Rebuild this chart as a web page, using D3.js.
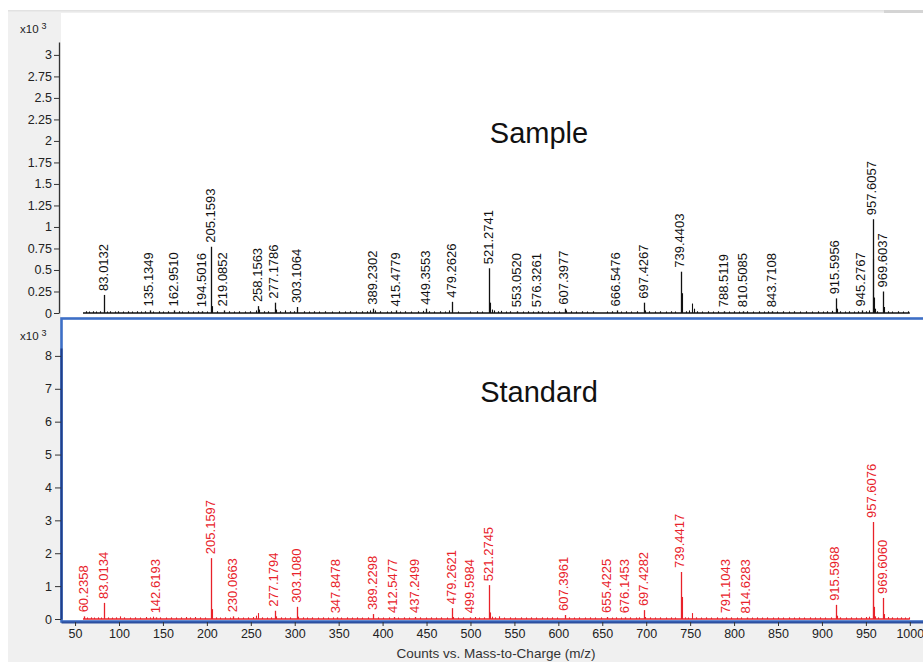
<!DOCTYPE html>
<html>
<head>
<meta charset="utf-8">
<script src="https://cdn.jsdelivr.net/npm/d3@7"></script>
<style>
  html, body { margin: 0; padding: 0; background: #ffffff; }
  svg { display: block; font-family: "Liberation Sans", Arial, sans-serif; }
</style>
</head>
<body>
<svg id="chart" width="923" height="662"></svg>
<script>
// ---- Sample trace: labelled ions (m/z, counts x10^3) ----
const sampleMz = [83.0132, 135.1349, 162.9510, 194.5016, 205.1593, 219.0852, 258.1563, 277.1786,
  303.1064, 389.2302, 415.4779, 449.3553, 479.2626, 521.2741, 553.0520, 576.3261, 607.3977,
  666.5476, 697.4267, 739.4403, 788.5119, 810.5085, 843.7108, 915.5956, 945.2767, 957.6057, 969.6037];
const sampleCounts = [0.21, 0.03, 0.03, 0.02, 0.77, 0.03, 0.08, 0.12,
  0.07, 0.05, 0.03, 0.05, 0.13, 0.52, 0.02, 0.02, 0.05,
  0.03, 0.12, 0.48, 0.02, 0.02, 0.02, 0.17, 0.03, 1.09, 0.25];

// ---- Sample trace: unlabelled ions [m/z, counts x10^3] ----
const sampleMinor = [[62,0.02],[66,0.015],[70,0.02],[74,0.015],[78,0.02],[86,0.015],[90,0.02],[95,0.015],
  [99,0.02],[104,0.015],[110,0.02],[115,0.015],[120,0.02],[125,0.015],[130,0.02],[139,0.015],[145,0.02],
  [150,0.015],[156,0.02],[168,0.02],[172,0.015],[178,0.02],[184,0.015],[190,0.02],[200,0.015],[206.16,0.08],
  [212,0.02],[225,0.02],[231,0.015],[237,0.02],[243,0.015],[249,0.02],[256,0.03],[259.16,0.04],[265,0.02],
  [270,0.02],[278.18,0.04],[283,0.02],[289,0.03],[295,0.02],[299,0.02],[310,0.02],[316,0.015],[322,0.02],
  [328,0.015],[335,0.02],[342,0.015],[350,0.02],[357,0.015],[363,0.02],[370,0.015],[376,0.02],[382,0.02],
  [386,0.03],[391,0.03],[397,0.02],[405,0.015],[410,0.02],[420,0.015],[426,0.02],[432,0.015],[440,0.02],
  [446,0.025],[453,0.02],[459,0.015],[465,0.02],[471,0.015],[476,0.03],[486,0.015],[500,0.015],[507,0.02],
  [513,0.015],[522.28,0.12],[524,0.04],[527,0.03],[531,0.02],[535,0.025],[540,0.015],[545,0.02],[560,0.015],
  [566,0.02],[571,0.015],[581,0.02],[588,0.015],[595,0.02],[601,0.015],[609,0.03],[614,0.02],[620,0.015],
  [627,0.02],[633,0.015],[640,0.02],[655,0.015],[661,0.02],[671,0.015],[677,0.02],[683,0.015],[689,0.02],
  [698.43,0.03],[703,0.02],[710,0.015],[716,0.02],[722,0.015],[728,0.02],[733,0.015],[740.44,0.23],[745,0.02],
  [749,0.03],[752.5,0.11],[754,0.05],[758,0.02],[764,0.015],[770,0.02],[776,0.015],[782,0.02],[794,0.015],
  [800,0.02],[806,0.015],[815,0.02],[821,0.015],[828,0.02],[834,0.015],[839,0.02],[849,0.015],[856,0.02],
  [862,0.015],[868,0.02],[875,0.015],[882,0.02],[889,0.015],[895,0.02],[901,0.015],[906,0.02],[911,0.025],
  [916.6,0.05],[921,0.02],[926,0.015],[931,0.02],[936,0.015],[941,0.02],[950,0.02],[954,0.03],[958.61,0.63],
  [959.61,0.18],[960.6,0.05],[963,0.02],[970.6,0.07],[975,0.02],[980,0.015],[986,0.02],[992,0.015],[998,0.02]];

// ---- Standard trace: labelled ions (m/z, counts x10^3) ----
const standardMz = [60.2358, 83.0134, 142.6193, 205.1597, 230.0663, 277.1794, 303.1080, 347.8478,
  389.2298, 412.5477, 437.2499, 479.2621, 499.5984, 521.2745, 607.3961, 655.4225, 676.1453,
  697.4282, 739.4417, 791.1043, 814.6283, 915.5968, 957.6076, 969.6060];
const standardCounts = [0.08, 0.49, 0.05, 1.85, 0.08, 0.25, 0.37, 0.05,
  0.15, 0.06, 0.06, 0.33, 0.05, 1.03, 0.12, 0.06, 0.05,
  0.27, 1.43, 0.05, 0.04, 0.43, 2.95, 0.64];

// ---- Standard trace: unlabelled ions [m/z, counts x10^3] ----
const standardMinor = [[64,0.04],[68,0.05],[72,0.04],[76,0.05],[79,0.04],[88,0.05],[92,0.04],[97,0.05],
  [101,0.08],[106,0.05],[112,0.04],[118,0.05],[124,0.04],[131,0.06],[135,0.05],[139,0.07],[147,0.05],
  [153,0.04],[159,0.05],[165,0.04],[171,0.05],[176,0.06],[181,0.05],[187,0.06],[192,0.05],[198,0.04],
  [206.16,0.3],[210,0.05],[215,0.04],[221,0.05],[226,0.04],[235,0.05],[241,0.04],[247,0.05],[252,0.06],
  [256,0.1],[258.2,0.18],[263,0.05],[268,0.04],[273,0.05],[278.18,0.08],[284,0.05],[289,0.04],[295,0.05],
  [304.11,0.07],[309,0.05],[314,0.04],[320,0.05],[326,0.04],[332,0.05],[338,0.04],[343,0.05],[353,0.04],
  [359,0.05],[365,0.04],[371,0.05],[377,0.04],[383,0.05],[395,0.05],[401,0.04],[407,0.05],[418,0.04],
  [424,0.05],[430,0.04],[443,0.05],[449,0.04],[455,0.05],[461,0.04],[467,0.05],[473,0.04],[480.27,0.06],
  [486,0.04],[492,0.05],[505,0.06],[510,0.04],[515,0.05],[522.28,0.2],[524,0.07],[528,0.05],[533,0.08],
  [538,0.04],[545,0.05],[551,0.04],[557,0.05],[563,0.04],[569,0.05],[575,0.04],[581,0.05],[587,0.04],
  [593,0.05],[599,0.04],[612,0.05],[618,0.04],[624,0.05],[630,0.04],[636,0.05],[642,0.04],[648,0.05],
  [661,0.04],[666,0.05],[671,0.04],[682,0.05],[688,0.04],[692,0.05],[698.43,0.06],[704,0.05],[710,0.04],
  [716,0.05],[722,0.04],[728,0.05],[733,0.04],[740.44,0.67],[744,0.05],[748,0.04],[752.5,0.18],[757,0.05],
  [762,0.04],[768,0.05],[774,0.04],[780,0.05],[786,0.04],[797,0.05],[803,0.04],[808,0.05],[820,0.04],
  [826,0.05],[832,0.04],[838,0.05],[844,0.04],[850,0.05],[856,0.04],[862,0.05],[868,0.04],[874,0.05],
  [880,0.04],[886,0.05],[892,0.04],[898,0.05],[904,0.04],[910,0.05],[916.6,0.1],[921,0.05],[927,0.04],
  [933,0.05],[939,0.04],[945,0.05],[950,0.06],[954,0.07],[958.61,1.73],[959.61,0.37],[960.6,0.08],
  [964,0.05],[970.6,0.15],[975,0.06],[980,0.05],[985,0.04],[990,0.05],[995,0.04],[999,0.05]];

// ---- Axis ticks ----
const sampleTicks = [0, 0.25, 0.5, 0.75, 1, 1.25, 1.5, 1.75, 2, 2.25, 2.5, 2.75, 3];
const standardTicks = [0, 1, 2, 3, 4, 5, 6, 7, 8];
const mzTicks = [50, 100, 150, 200, 250, 300, 350, 400, 450, 500, 550, 600, 650, 700, 750, 800, 850, 900, 950, 1000];
const traceRange = [59, 1000];

const BLACK = "#111111";
const RED = "#e8222a";
const AXIS = "#333333";
const BLUE = "#3d6fc6";

const svg = d3.select("#chart");

// window background and plot panels
svg.append("rect").attr("x", 8).attr("y", 10).attr("width", 915).attr("height", 652).attr("fill", "#f0f0f0");
svg.append("rect").attr("x", 8).attr("y", 10).attr("width", 915).attr("height", 1.5).attr("fill", "#e2e2e2");
svg.append("rect").attr("x", 884).attr("y", 10).attr("width", 39).attr("height", 3).attr("fill", "#d4d4d4");
svg.append("rect").attr("x", 61).attr("y", 13).attr("width", 862).attr("height", 305).attr("fill", "#ffffff");
svg.append("rect").attr("x", 61).attr("y", 318).attr("width", 862).attr("height", 304).attr("fill", "#ffffff");

// scales
const x = d3.scaleLinear().domain([34, 1015]).range([61, 923]);
const ySample = d3.scaleLinear().domain([0, 3.15]).range([313, 42]);
const yStandard = d3.scaleLinear().domain([0, 8.24]).range([619, 348]);

const fmtMz = d3.format(".4f");
const px = v => Math.round(x(v)) + 0.5;

function drawTrace(yScale, mz, counts, minor, color, labelGap) {
  const g = svg.append("g");
  const y0 = yScale(0);
  // baseline of the trace
  g.append("line")
    .attr("x1", x(traceRange[0])).attr("x2", x(traceRange[1]))
    .attr("y1", y0).attr("y2", y0)
    .attr("stroke", color).attr("stroke-width", 1.3);
  // unlabelled ions
  g.append("g").selectAll("line").data(minor).join("line")
    .attr("x1", d => px(d[0])).attr("x2", d => px(d[0]))
    .attr("y1", y0).attr("y2", d => Math.min(yScale(d[1]), y0 - 1.5))
    .attr("stroke", color).attr("stroke-width", 1.1);
  // labelled ions
  const peaks = mz.map((m, i) => ({ mz: m, c: counts[i] }));
  g.append("g").selectAll("line").data(peaks).join("line")
    .attr("x1", d => px(d.mz)).attr("x2", d => px(d.mz))
    .attr("y1", y0).attr("y2", d => Math.min(yScale(d.c), y0 - 1.5))
    .attr("stroke", color).attr("stroke-width", 1.3);
  g.append("g").selectAll("text").data(peaks).join("text")
    .attr("transform", d => `translate(${x(d.mz) - 1},${Math.min(yScale(d.c), y0 - 1.5) - labelGap}) rotate(-90)`)
    .attr("dy", "0.35em")
    .attr("font-size", 13)
    .attr("fill", color)
    .text(d => fmtMz(d.mz));
}

drawTrace(ySample, sampleMz, sampleCounts, sampleMinor, BLACK, 4);
drawTrace(yStandard, standardMz, standardCounts, standardMinor, RED, 4);

// panel titles
svg.append("text").attr("x", 539).attr("y", 143).attr("text-anchor", "middle")
  .attr("font-size", 29).attr("fill", "#111").text("Sample");
svg.append("text").attr("x", 539).attr("y", 402).attr("text-anchor", "middle")
  .attr("font-size", 29).attr("fill", "#111").text("Standard");

// y axes
function styleAxis(g, color) {
  g.selectAll(".domain").attr("stroke", color).attr("stroke-width", 1.3);
  g.selectAll(".tick line").attr("stroke", AXIS);
  g.selectAll(".tick text").attr("fill", "#222").attr("font-size", 12.5)
    .attr("font-family", "'Liberation Sans', Arial, sans-serif");
}

const axSample = svg.append("g").attr("transform", "translate(59,0)")
  .call(d3.axisLeft(ySample).tickValues(sampleTicks).tickFormat(d3.format("~g")).tickSize(5).tickSizeOuter(0).tickPadding(2));
styleAxis(axSample, AXIS);

// selected-panel frame
svg.append("rect").attr("x", 61.5).attr("y", 318.5).attr("width", 900).attr("height", 303)
  .attr("fill", "none").attr("stroke", BLUE).attr("stroke-width", 2.6);

const axStandard = svg.append("g").attr("transform", "translate(61,0)")
  .call(d3.axisLeft(yStandard).tickValues(standardTicks).tickSize(6).tickSizeOuter(0).tickPadding(3));
styleAxis(axStandard, "#1f3f8a");
axStandard.select(".domain").attr("stroke-width", 2);

const axX = svg.append("g").attr("transform", "translate(0,622)")
  .call(d3.axisBottom(x).tickValues(mzTicks).tickFormat(d3.format("d")).tickSize(4).tickSizeOuter(0).tickPadding(3));
styleAxis(axX, "#2c4f9e");
axX.select(".domain").attr("stroke-width", 2);

// multiplier captions
function multiplier(xPos, yPos) {
  const t = svg.append("text").attr("x", xPos).attr("y", yPos).attr("font-size", 11.5).attr("fill", "#222");
  t.append("tspan").text("x10");
  t.append("tspan").attr("dx", 3).attr("dy", -4).attr("font-size", 9).text("3");
}
multiplier(20, 33);
multiplier(20, 340);

// x axis title
svg.append("text").attr("x", 496).attr("y", 658).attr("text-anchor", "middle")
  .attr("font-size", 13.5).attr("fill", "#333").text("Counts vs. Mass-to-Charge (m/z)");
</script>
</body>
</html>
